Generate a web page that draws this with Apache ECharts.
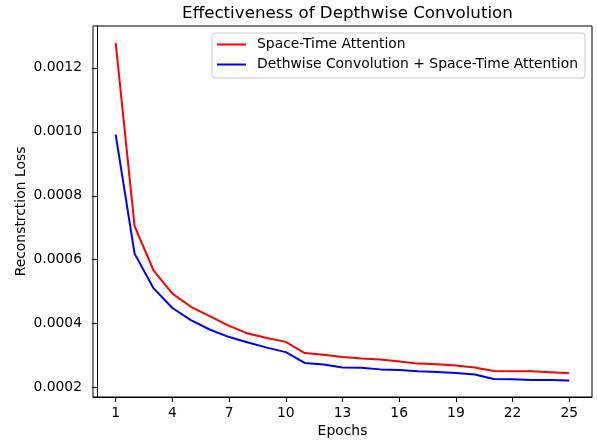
<!DOCTYPE html>
<html>
<head>
<meta charset="utf-8">
<script src="https://cdn.jsdelivr.net/npm/echarts@6/dist/echarts.min.js"></script>
<style>
  html, body { margin: 0; padding: 0; background: #fff; }
  #chart { width: 597px; height: 443px; }
</style>
</head>
<body>
<div id="chart"></div>
<script>
// epochs and losses
const epochs = [1, 2, 3, 4, 5, 6, 7, 8, 9, 10, 11, 12, 13, 14, 15, 16, 17, 18, 19, 20, 21, 22, 23, 24, 25]
const spaceTime = [0.001278, 0.000705, 0.000567, 0.000494, 0.000452, 0.000423, 0.000393, 0.000369, 0.000355, 0.000343,
    0.000308, 0.000303, 0.000296, 0.000291, 0.000288, 0.000282, 0.000275, 0.000273, 0.000269, 0.000263,
    0.000252, 0.000251, 0.000251, 0.000248, 0.000245]
const depthwise = [0.000991, 0.000619, 0.000511, 0.000449, 0.000410, 0.000381, 0.000358, 0.000341, 0.000325, 0.000311,
    0.000277, 0.000272, 0.000263, 0.000262, 0.000257, 0.000255, 0.000251, 0.000249, 0.000246, 0.000241,
    0.000227, 0.000226, 0.000224, 0.000224, 0.000222]
const xTicks = [1, 4, 7, 10, 13, 16, 19, 22, 25]
const yTicks = [0.0002, 0.0004, 0.0006, 0.0008, 0.0010, 0.0012]

const font = 'DejaVu Sans'
const chart = echarts.init(document.getElementById('chart'))

const toPairs = (vals) => vals.map((v, i) => [epochs[i], v])

chart.setOption({
    animation: false,
    backgroundColor: '#fff',
    title: {
        text: 'Effectiveness of Depthwise Convolution',
        left: 342.5,
        top: 0,
        textAlign: 'center',
        padding: [5, 5],
        textStyle: { fontFamily: font, fontSize: 16.7, fontWeight: 'normal', color: '#000' }
    },
    grid: {
        left: 93, right: 5, top: 26, bottom: 46,
        outerBoundsMode: 'none',
        show: true, borderColor: '#000', borderWidth: 1
    },
    legend: {
        orient: 'vertical',
        left: 212,
        top: 33,
        padding: [4, 7, 6, 5],
        itemGap: 5,
        itemWidth: 29,
        itemHeight: 2,
        icon: 'rect',
        borderColor: '#cccccc',
        borderWidth: 1,
        borderRadius: 3,
        backgroundColor: 'rgba(255,255,255,0.8)',
        textStyle: { fontFamily: font, fontSize: 13.9, color: '#000', lineHeight: 15, padding: [0, 0, 0, 6] },
        data: ['Space-Time Attention', 'Dethwise Convolution + Space-Time Attention']
    },
    xAxis: {
        type: 'value',
        min: -0.2,
        max: 26.2,
        name: 'Epochs',
        nameLocation: 'middle',
        nameGap: 27,
        nameMoveOverlap: false,
        nameTextStyle: { fontFamily: font, fontSize: 13.9, color: '#000' },
        axisLine: { show: true, lineStyle: { color: '#000', width: 1 } },
        axisTick: { show: true, customValues: xTicks, length: 5, lineStyle: { color: '#000', width: 1 } },
        axisLabel: { customValues: xTicks, margin: 9, fontFamily: font, fontSize: 13.9, color: '#000' },
        splitLine: { show: false }
    },
    yAxis: {
        type: 'value',
        min: 0.0001706,
        max: 0.001331,
        name: 'Reconstrction Loss',
        nameLocation: 'middle',
        nameGap: 65,
        nameMoveOverlap: false,
        nameTextStyle: { fontFamily: font, fontSize: 13.9, color: '#000' },
        axisLine: { show: true, lineStyle: { color: '#000', width: 1 } },
        axisTick: { show: true, customValues: yTicks, length: 5, lineStyle: { color: '#000', width: 1 } },
        axisLabel: {
            customValues: yTicks, margin: 11, fontFamily: font, fontSize: 13.9, color: '#000',
            formatter: (v) => v.toFixed(4)
        },
        splitLine: { show: false }
    },
    series: [
        {
            name: 'Space-Time Attention',
            type: 'line',
            data: toPairs(spaceTime),
            showSymbol: false,
            color: '#ff0000',
            lineStyle: { color: '#ff0000', width: 2 }
        },
        {
            name: 'Dethwise Convolution + Space-Time Attention',
            type: 'line',
            data: toPairs(depthwise),
            showSymbol: false,
            color: '#0000ff',
            lineStyle: { color: '#0000ff', width: 2 }
        }
    ]
})
</script>
</body>
</html>
